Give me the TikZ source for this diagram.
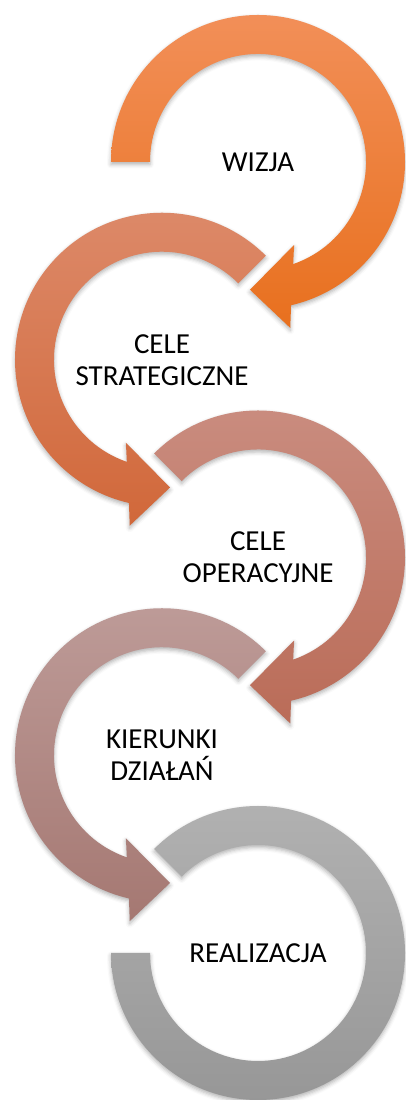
\documentclass[tikz,border=0pt]{standalone}
\usepackage{fontspec}
\setmainfont{Carlito}
\usetikzlibrary{shadows.blur}
\definecolor{c1t}{RGB}{242,143,88}
\definecolor{c1b}{RGB}{232,112,30}
\definecolor{c2t}{RGB}{221,138,106}
\definecolor{c2b}{RGB}{209,104,58}
\definecolor{c3t}{RGB}{202,141,128}
\definecolor{c3b}{RGB}{186,108,88}
\definecolor{c4t}{RGB}{190,156,153}
\definecolor{c4b}{RGB}{165,120,114}
\definecolor{c5t}{RGB}{178,178,178}
\definecolor{c5b}{RGB}{150,150,150}
\begin{document}
\begin{tikzpicture}[x=1pt,y=1pt,
  ring/.style={blur shadow={shadow xshift=0pt,shadow yshift=-2.5pt,shadow blur radius=4pt,shadow opacity=30}},
  lbl/.style={font=\fontsize{29}{32}\selectfont, align=center, text=black, inner sep=0pt}]
\useasboundingbox (0,0) rectangle (406,1100);
% ring 1 (clockwise, tail at left)
\begin{scope}[shift={(258,938)}]
\path[ring, top color=c1t, bottom color=c1b]
  (180:108pt) -- (180:147pt) arc[start angle=180, end angle=-77, radius=147pt]
  -- (-79:169pt) -- (-93.6:128pt) -- (-66.5:90.5pt) -- (-71:108pt)
  arc[start angle=-71, end angle=180, radius=108pt] -- cycle;
\node[lbl] (wizja) at (0,0) {WIZJA};
\end{scope}
% ring 2 (counter-clockwise)
\begin{scope}[shift={(162,740.25)}]
\path[ring, top color=c2t, bottom color=c2b]
  (45:108pt) -- (45:147pt) arc[start angle=45, end angle=257, radius=147pt]
  -- (259:169pt) -- (273.6:128pt) -- (246.5:90.5pt) -- (251:108pt)
  arc[start angle=251, end angle=45, radius=108pt] -- cycle;
\node[lbl] (strat) at (0,0) {CELE\\STRATEGICZNE};
\end{scope}
% ring 3 (clockwise)
\begin{scope}[shift={(258,542.5)}]
\path[ring, top color=c3t, bottom color=c3b]
  (135:108pt) -- (135:147pt) arc[start angle=135, end angle=-77, radius=147pt]
  -- (-79:169pt) -- (-93.6:128pt) -- (-66.5:90.5pt) -- (-71:108pt)
  arc[start angle=-71, end angle=135, radius=108pt] -- cycle;
\node[lbl] (oper) at (0,0) {CELE\\OPERACYJNE};
\end{scope}
% ring 4 (counter-clockwise)
\begin{scope}[shift={(162,344.75)}]
\path[ring, top color=c4t, bottom color=c4b]
  (45:108pt) -- (45:147pt) arc[start angle=45, end angle=257, radius=147pt]
  -- (259:169pt) -- (273.6:128pt) -- (246.5:90.5pt) -- (251:108pt)
  arc[start angle=251, end angle=45, radius=108pt] -- cycle;
\node[lbl] (kier) at (0,0) {KIERUNKI\\DZIAŁAŃ};
\end{scope}
% ring 5 (clockwise, ends at left, no head)
\begin{scope}[shift={(258,147)}]
\path[ring, top color=c5t, bottom color=c5b]
  (135:108pt) -- (135:147pt) arc[start angle=135, end angle=-180, radius=147pt]
  -- (-180:108pt) arc[start angle=-180, end angle=135, radius=108pt] -- cycle;
\node[lbl] (real) at (0,0) {REALIZACJA};
\end{scope}
\end{tikzpicture}
\end{document}
